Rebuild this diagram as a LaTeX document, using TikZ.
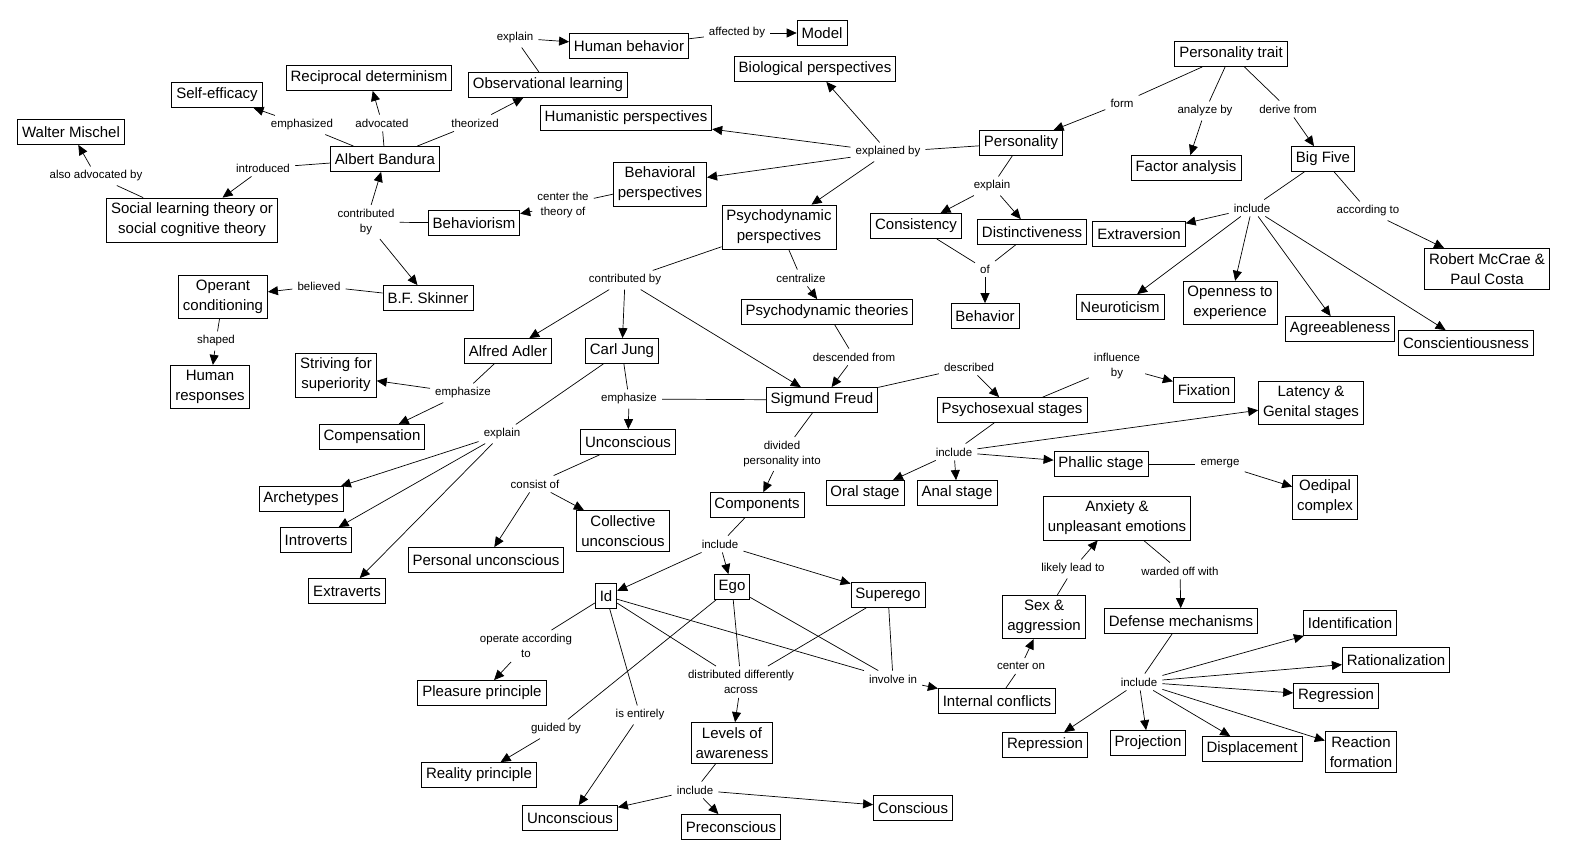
\documentclass[tikz,border=0pt]{standalone}
\usepackage{fontspec}
\setmainfont{Liberation Sans}
\usetikzlibrary{arrows.meta}
\begin{document}
\begin{tikzpicture}[x=1pt,y=-1pt,
  box/.style={draw, line width=0.8pt, font=\fontsize{15}{20}\selectfont, inner xsep=4.5pt, inner ysep=5pt, minimum height=25pt, align=center},
  lbl/.style={font=\fontsize{11.5}{15}\selectfont, inner xsep=5pt, inner ysep=4pt, align=center},
  ln/.style={line width=0.7pt},
  ar/.style={line width=0.7pt, -{Triangle[length=10pt,width=9pt]}},
]
\useasboundingbox[fill=white] (0,0) rectangle (1572,861);
% boxes
\node[box] (mischel) at (71,132) {Walter Mischel};
\node[box] (selfeff) at (217,95) {Self-efficacy};
\node[box] (recip) at (369,78) {Reciprocal determinism};
\node[box] (bandura) at (385,159) {Albert Bandura};
\node[box] (obs) at (548,85) {Observational learning};
\node[box] (humbeh) at (629,46) {Human behavior};
\node[box] (model) at (822,33) {Model};
\node[box] (bio) at (815,69) {Biological perspectives};
\node[box] (human) at (626,118) {Humanistic perspectives};
\node[box] (behav) at (660,184) {Behavioral\\perspectives};
\node[box] (psydyn) at (779,227) {Psychodynamic\\perspectives};
\node[box] (slt) at (192,220) {Social learning theory or\\social cognitive theory};
\node[box] (behaviorism) at (474,223) {Behaviorism};
\node[box] (operant) at (223,297) {Operant\\conditioning};
\node[box] (skinner) at (428,298) {B.F. Skinner};
\node[box] (humresp) at (210,387) {Human\\responses};
\node[box] (ptrait) at (1231,54) {Personality trait};
\node[box] (personality) at (1021,143) {Personality};
\node[box] (factor) at (1186,168) {Factor analysis};
\node[box] (bigfive) at (1323,159) {Big Five};
\node[box] (consist) at (916,226) {Consistency};
\node[box] (distinct) at (1032,232) {Distinctiveness};
\node[box] (extraversion) at (1139,234) {Extraversion};
\node[box] (behavior) at (985,316) {Behavior};
\node[box] (neuro) at (1120,307) {Neuroticism};
\node[box] (open) at (1230,303) {Openness to\\experience};
\node[box] (agree) at (1340,329) {Agreeableness};
\node[box] (consc) at (1466,343) {Conscientiousness};
\node[box] (mccrae) at (1487,269) {Robert McCrae \&\\Paul Costa};
\node[box] (pdtheo) at (827,312) {Psychodynamic theories};
\node[box] (adler) at (508,351) {Alfred Adler};
\node[box] (jung) at (622,351) {Carl Jung};
\node[box] (striving) at (336,375) {Striving for\\superiority};
\node[box] (compens) at (372,437) {Compensation};
\node[box] (freud) at (822,400) {Sigmund Freud};
\node[box] (uncj) at (628,442) {Unconscious};
\node[box] (psysex) at (1012,410) {Psychosexual stages};
\node[box] (fixation) at (1204,390) {Fixation};
\node[box] (latency) at (1311,403) {Latency \&\\Genital stages};
\node[box] (arche) at (301,499) {Archetypes};
\node[box] (intro) at (316,540) {Introverts};
\node[box] (extra) at (347,591) {Extraverts};
\node[box] (personalunc) at (486,560) {Personal unconscious};
\node[box] (collunc) at (623,531) {Collective\\unconscious};
\node[box] (comp) at (757,505) {Components};
\node[box] (oral) at (865,493) {Oral stage};
\node[box] (anal) at (957,493) {Anal stage};
\node[box] (phallic) at (1101,464) {Phallic stage};
\node[box] (oedipal) at (1325,497) {Oedipal\\complex};
\node[box] (anxiety) at (1117,518) {Anxiety \&\\unpleasant emotions};
\node[box] (id) at (606,596) {Id};
\node[box] (ego) at (732,587) {Ego};
\node[box] (superego) at (888,595) {Superego};
\node[box] (sexagg) at (1044,617) {Sex \&\\aggression};
\node[box] (defense) at (1181,621) {Defense mechanisms};
\node[box] (ident) at (1350,623) {Identification};
\node[box] (ration) at (1396,660) {Rationalization};
\node[box] (regress) at (1336,696) {Regression};
\node[box] (pleasure) at (482,693) {Pleasure principle};
\node[box] (internal) at (997,701) {Internal conflicts};
\node[box] (levels) at (732,743) {Levels of\\awareness};
\node[box] (repress) at (1045,745) {Repression};
\node[box] (project) at (1148,743) {Projection};
\node[box] (displace) at (1252,749) {Displacement};
\node[box] (reaction) at (1361,752) {Reaction\\formation};
\node[box] (reality) at (479,775) {Reality principle};
\node[box] (uncb) at (570,818) {Unconscious};
\node[box] (precon) at (731,827) {Preconscious};
\node[box] (conscious) at (913,808) {Conscious};
% labels
\node[lbl] (l_explain1) at (515,38) {explain};
\node[lbl] (l_affected) at (737,33) {affected by};
\node[lbl] (l_emph) at (302,125) {emphasized};
\node[lbl] (l_adv) at (382,123) {advocated};
\node[lbl] (l_theo) at (475,123) {theorized};
\node[lbl] (l_intro) at (263,168) {introduced};
\node[lbl] (l_also) at (96,176) {also advocated by};
\node[lbl] (l_contrib1) at (366,222) {contributed\\by};
\node[lbl] (l_center) at (563,205) {center the\\theory of};
\node[lbl] (l_explby) at (888,152) {explained by};
\node[lbl] (l_form) at (1122,103) {form};
\node[lbl] (l_analyze) at (1205,111) {analyze by};
\node[lbl] (l_derive) at (1288,109) {derive from};
\node[lbl] (l_explain2) at (992,186) {explain};
\node[lbl] (l_of) at (985,269) {of};
\node[lbl] (l_inc_bf) at (1252,208) {include};
\node[lbl] (l_acc) at (1368,211) {according to};
\node[lbl] (l_believed) at (319,286) {believed};
\node[lbl] (l_shaped) at (216,341) {shaped};
\node[lbl] (l_contrib2) at (625,280) {contributed by};
\node[lbl] (l_central) at (801,278) {centralize};
\node[lbl] (l_desc) at (854,357) {descended from};
\node[lbl] (l_emph_a) at (463,393) {emphasize};
\node[lbl] (l_emph_j) at (629,399) {emphasize};
\node[lbl] (l_explain3) at (502,434) {explain};
\node[lbl] (l_consist) at (535,484) {consist of};
\node[lbl] (l_described) at (969,367) {described};
\node[lbl] (l_influence) at (1117,366) {influence\\by};
\node[lbl] (l_inc_ps) at (954,452) {include};
\node[lbl] (l_emerge) at (1220,464) {emerge};
\node[lbl] (l_divided) at (782,454) {divided\\personality into};
\node[lbl] (l_inc_comp) at (720,544) {include};
\node[lbl] (l_operate) at (526,646) {operate according\\to};
\node[lbl] (l_guided) at (556,729) {guided by};
\node[lbl] (l_entirely) at (640,715) {is entirely};
\node[lbl] (l_distrib) at (741,682) {distributed differently\\across};
\node[lbl] (l_involve) at (893,679) {involve in};
\node[lbl] (l_centeron) at (1021,666) {center on};
\node[lbl] (l_likely) at (1073,569) {likely lead to};
\node[lbl] (l_warded) at (1180,571) {warded off with};
\node[lbl] (l_inc_def) at (1139,682) {include};
\node[lbl] (l_inc_lev) at (695,790) {include};
% connectors
\draw[ln] (obs) -- (l_explain1); \draw[ar] (l_explain1) -- (humbeh);
\draw[ln] (humbeh) -- (l_affected); \draw[ar] (l_affected) -- (model);
\draw[ln] (bandura) -- (l_emph); \draw[ar] (l_emph) -- (selfeff);
\draw[ln] (bandura) -- (l_adv); \draw[ar] (l_adv) -- (recip);
\draw[ln] (bandura) -- (l_theo); \draw[ar] (l_theo) -- (obs);
\draw[ln] (bandura) -- (l_intro); \draw[ar] (l_intro) -- (slt);
\draw[ln] (slt) -- (l_also); \draw[ar] (l_also) -- (mischel);
\draw[ln] (behaviorism) -- (l_contrib1); \draw[ar] (l_contrib1) -- (bandura); \draw[ar] (l_contrib1) -- (skinner);
\draw[ln] (skinner) -- (l_believed); \draw[ar] (l_believed) -- (operant);
\draw[ln] (operant) -- (l_shaped); \draw[ar] (l_shaped) -- (humresp);
\draw[ln] (personality) -- (l_explby);
\draw[ar] (l_explby) -- (bio); \draw[ar] (l_explby) -- (human); \draw[ar] (l_explby) -- (behav); \draw[ar] (l_explby) -- (psydyn);
\draw[ln] (behav) -- (l_center); \draw[ar] (l_center) -- (behaviorism);
\draw[ln] (ptrait) -- (l_form); \draw[ar] (l_form) -- (personality);
\draw[ln] (ptrait) -- (l_analyze); \draw[ar] (l_analyze) -- (factor);
\draw[ln] (ptrait) -- (l_derive); \draw[ar] (l_derive) -- (bigfive);
\draw[ln] (personality) -- (l_explain2); \draw[ar] (l_explain2) -- (consist); \draw[ar] (l_explain2) -- (distinct);
\draw[ln] (consist) -- (l_of); \draw[ln] (distinct) -- (l_of); \draw[ar] (l_of) -- (behavior);
\draw[ln] (bigfive) -- (l_inc_bf);
\draw[ar] (l_inc_bf) -- (extraversion); \draw[ar] (l_inc_bf) -- (neuro); \draw[ar] (l_inc_bf) -- (open); \draw[ar] (l_inc_bf) -- (agree); \draw[ar] (l_inc_bf) -- (consc);
\draw[ln] (bigfive) -- (l_acc); \draw[ar] (l_acc) -- (mccrae);
\draw[ln] (psydyn) -- (l_contrib2); \draw[ar] (l_contrib2) -- (adler); \draw[ar] (l_contrib2) -- (jung); \draw[ar] (l_contrib2) -- (freud);
\draw[ln] (psydyn) -- (l_central); \draw[ar] (l_central) -- (pdtheo);
\draw[ln] (pdtheo) -- (l_desc); \draw[ar] (l_desc) -- (freud);
\draw[ln] (adler) -- (l_emph_a); \draw[ar] (l_emph_a) -- (striving); \draw[ar] (l_emph_a) -- (compens);
\draw[ln] (jung) -- (l_emph_j); \draw[ln] (freud) -- (l_emph_j); \draw[ar] (l_emph_j) -- (uncj);
\draw[ln] (jung) -- (l_explain3); \draw[ar] (l_explain3) -- (arche); \draw[ar] (l_explain3) -- (intro); \draw[ar] (l_explain3) -- (extra);
\draw[ln] (uncj) -- (l_consist); \draw[ar] (l_consist) -- (personalunc); \draw[ar] (l_consist) -- (collunc);
\draw[ln] (freud) -- (l_described); \draw[ar] (l_described) -- (psysex);
\draw[ln] (psysex) -- (l_influence); \draw[ar] (l_influence) -- (fixation);
\draw[ln] (psysex) -- (l_inc_ps); \draw[ar] (l_inc_ps) -- (oral); \draw[ar] (l_inc_ps) -- (anal); \draw[ar] (l_inc_ps) -- (phallic); \draw[ar] (l_inc_ps) -- (latency);
\draw[ln] (phallic) -- (l_emerge); \draw[ar] (l_emerge) -- (oedipal);
\draw[ln] (freud) -- (l_divided); \draw[ar] (l_divided) -- (comp);
\draw[ln] (comp) -- (l_inc_comp); \draw[ar] (l_inc_comp) -- (id); \draw[ar] (l_inc_comp) -- (ego); \draw[ar] (l_inc_comp) -- (superego);
\draw[ln] (id) -- (l_operate); \draw[ar] (l_operate) -- (pleasure);
\draw[ln] (ego) -- (l_guided); \draw[ar] (l_guided) -- (reality);
\draw[ln] (id) -- (l_entirely); \draw[ar] (l_entirely) -- (uncb);
\draw[ln] (id) -- (l_distrib); \draw[ln] (ego) -- (l_distrib); \draw[ln] (superego) -- (l_distrib); \draw[ar] (l_distrib) -- (levels);
\draw[ln] (id) -- (l_involve); \draw[ln] (ego) -- (l_involve); \draw[ln] (superego) -- (l_involve); \draw[ar] (l_involve) -- (internal);
\draw[ln] (internal) -- (l_centeron); \draw[ar] (l_centeron) -- (sexagg);
\draw[ln] (sexagg) -- (l_likely); \draw[ar] (l_likely) -- (anxiety);
\draw[ln] (anxiety) -- (l_warded); \draw[ar] (l_warded) -- (defense);
\draw[ln] (defense) -- (l_inc_def);
\draw[ar] (l_inc_def) -- (ident); \draw[ar] (l_inc_def) -- (ration); \draw[ar] (l_inc_def) -- (regress); \draw[ar] (l_inc_def) -- (repress); \draw[ar] (l_inc_def) -- (project); \draw[ar] (l_inc_def) -- (displace); \draw[ar] (l_inc_def) -- (reaction);
\draw[ln] (levels) -- (l_inc_lev); \draw[ar] (l_inc_lev) -- (uncb); \draw[ar] (l_inc_lev) -- (precon); \draw[ar] (l_inc_lev) -- (conscious);
\end{tikzpicture}
\end{document}
